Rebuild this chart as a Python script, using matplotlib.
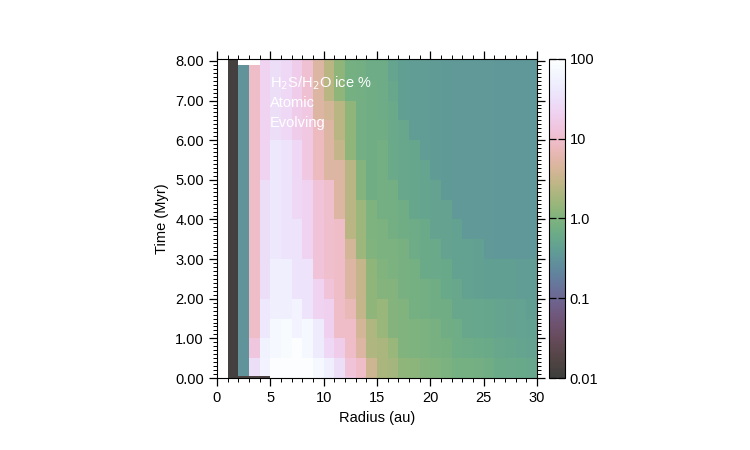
import numpy as np
import matplotlib
matplotlib.use('Agg')
import matplotlib.pyplot as plt
from matplotlib.colors import ListedColormap, LogNorm
from matplotlib.ticker import MultipleLocator

plt.rcParams['font.family'] = ['Liberation Sans', 'DejaVu Sans']

nan = np.nan

# grid edges
radius_edges = list(range(0, 31))  # au, 1 au bins
time_edges = [0.0, 0.05, 0.5, 1.0, 1.5, 2.0, 2.5, 3.0, 3.5, 4.0, 4.5, 5.0,
              5.5, 6.0, 6.5, 7.0, 7.5, 7.9, 8.05]  # Myr

# H2S/H2O ice %, one list per radius bin (bottom -> top in time)
r00 = [nan] * 18
r01 = [0.012] * 18
r02 = [0.015, 0.3, 0.3, 0.3, 0.3, 0.3, 0.3, 0.3, 0.3, 0.3, 0.3, 0.3, 0.3, 0.3, 0.3, 0.3, 0.3, nan]
r03 = [0.015, 30, 14, 9, 9, 9, 9, 9, 9, 9, 9, 9, 9, 9, 9, 9, 9, nan]
r04 = [0.015, 60, 55, 40, 40, 30, 30, 30, 30, 30, 30, 22, 22, 22, 22, 22, 22, 22]
r05 = [90, 90, 70, 70, 50, 50, 50, 40, 40, 40, 40, 40, 40, 30, 30, 30, 30, 30]
r06 = [90, 90, 80, 80, 50, 50, 50, 35, 35, 35, 35, 35, 35, 25, 25, 25, 25, 25]
r07 = [90, 90, 90, 60, 60, 35, 35, 35, 35, 25, 25, 25, 25, 18, 18, 18, 18, 18]
r08 = [90, 90, 70, 70, 35, 35, 35, 22, 22, 22, 22, 15, 15, 15, 15, 11, 11, 11]
r09 = [70, 70, 45, 45, 22, 22, 12, 12, 12, 12, 12, 8, 8, 8, 5, 5, 5, 5]
r10 = [50, 50, 25, 20, 20, 12, 10, 10, 10, 10, 10, 5, 5, 5, 4, 2.5, 2.5, 2.5]
r11 = [30, 30, 18, 9, 9, 9, 9, 9, 9, 5, 5, 5, 3, 2.5, 2.5, 1.3, 1.3, 1.3]
r12 = [15, 12, 9, 9, 7, 5, 5, 4, 2.5, 2.5, 2.5, 2.5, 1.3, 1.3, 1.3, 0.8, 0.8, 0.8]
r13 = [9, 9, 5, 4, 3, 3, 3, 1.6, 1.6, 1.6, 1.1, 1.1, 0.75, 0.75, 0.75, 0.75, 0.75, 0.75]
r14 = [3.5, 3.5, 2.2, 2.2, 1.3, 1.3, 1.3, 1.0, 0.95, 0.95, 0.7, 0.7, 0.7, 0.7, 0.7, 0.7, 0.65, 0.65]
r15 = [2.0, 2.0, 2.0, 1.5, 1.5, 1.1, 1.0, 0.9, 0.9, 0.75, 0.75, 0.75, 0.75, 0.7, 0.65, 0.65, 0.65, 0.65]
r16 = [1.8, 1.8, 1.5, 1.1, 1.1, 1.1, 0.9, 0.9, 0.75, 0.75, 0.75, 0.6, 0.6, 0.6, 0.6, 0.55, 0.5, 0.5]
r17 = [1.3, 1.3, 1.0, 1.0, 1.0, 0.85, 0.85, 0.85, 0.7, 0.7, 0.55, 0.55, 0.55, 0.55, 0.42, 0.42, 0.42, 0.42]
r18 = [1.2, 1.2, 0.95, 0.95, 0.8, 0.8, 0.8, 0.65, 0.65, 0.52, 0.52, 0.52, 0.52, 0.4, 0.4, 0.4, 0.4, 0.4]
r19 = [1.1, 1.1, 0.9, 0.9, 0.75, 0.75, 0.62, 0.62, 0.62, 0.5, 0.5, 0.5, 0.38, 0.38, 0.38, 0.38, 0.38, 0.38]
r20 = [1.0, 1.0, 0.85, 0.85, 0.72, 0.72, 0.6, 0.6, 0.48, 0.48, 0.48, 0.37, 0.37, 0.37, 0.37, 0.37, 0.37, 0.37]
r21 = [0.9, 0.9, 0.82, 0.7, 0.7, 0.58, 0.58, 0.47, 0.47, 0.47, 0.36, 0.36, 0.36, 0.36, 0.36, 0.36, 0.36, 0.36]
r22 = [0.8, 0.8, 0.68, 0.68, 0.56, 0.56, 0.45, 0.45, 0.45, 0.35, 0.35, 0.35, 0.35, 0.35, 0.35, 0.35, 0.35, 0.35]
r23 = [0.78, 0.78, 0.66, 0.55, 0.55, 0.44, 0.44, 0.44, 0.35, 0.35, 0.35, 0.35, 0.35, 0.35, 0.35, 0.35, 0.35, 0.35]
r24 = [0.75, 0.75, 0.64, 0.54, 0.54, 0.43, 0.43, 0.43, 0.34, 0.34, 0.34, 0.34, 0.34, 0.34, 0.34, 0.34, 0.34, 0.34]
r25 = [0.72, 0.72, 0.62, 0.52, 0.52, 0.42, 0.42, 0.34, 0.34, 0.34, 0.34, 0.34, 0.34, 0.34, 0.34, 0.34, 0.34, 0.34]
r26 = [0.62, 0.62, 0.55, 0.5, 0.5, 0.41, 0.41, 0.33, 0.33, 0.33, 0.33, 0.33, 0.33, 0.33, 0.33, 0.33, 0.33, 0.33]
r27 = [0.6, 0.6, 0.52, 0.48, 0.48, 0.41, 0.41, 0.33, 0.33, 0.33, 0.33, 0.33, 0.33, 0.33, 0.33, 0.33, 0.33, 0.33]
r28 = [0.58, 0.58, 0.5, 0.46, 0.46, 0.4, 0.4, 0.33, 0.33, 0.33, 0.33, 0.33, 0.33, 0.33, 0.33, 0.33, 0.33, 0.33]
r29 = [0.56, 0.56, 0.48, 0.45, 0.42, 0.4, 0.4, 0.33, 0.33, 0.33, 0.33, 0.33, 0.33, 0.33, 0.33, 0.33, 0.33, 0.33]

ice_pct = np.array([r00, r01, r02, r03, r04, r05, r06, r07, r08, r09,
                    r10, r11, r12, r13, r14, r15, r16, r17, r18, r19,
                    r20, r21, r22, r23, r24, r25, r26, r27, r28, r29], dtype=float).T
ice_pct = np.ma.masked_invalid(ice_pct)

cbar_ticks = [0.01, 0.1, 1, 10, 100]
cbar_labels = ['0.01', '0.1', '1.0', '10', '100']


# cubehelix colour scheme (Green 2011) with a different start colour
def cubehelix(start=1.15, rot=-1.5, hue=1.0, n=256):
    x = np.linspace(0, 1, n)
    phi = 2 * np.pi * (start / 3.0 + rot * x)
    a = hue * x * (1 - x) / 2.0
    r = x + a * (-0.14861 * np.cos(phi) + 1.78277 * np.sin(phi))
    g = x + a * (-0.29227 * np.cos(phi) - 0.90649 * np.sin(phi))
    b = x + a * (1.97294 * np.cos(phi))
    return ListedColormap(np.clip(np.c_[r, g, b], 0, 1))


cmap = cubehelix()
norm = LogNorm(vmin=0.01, vmax=100)

fig = plt.figure(figsize=(7.5, 4.5), dpi=100)
ax = fig.add_axes([0.2893, 0.16, 0.4267, 0.709])
mesh = ax.pcolormesh(radius_edges, time_edges, ice_pct, cmap=cmap, norm=norm,
                     alpha=0.76, linewidth=0)

ax.set_xlim(0, 30)
ax.set_ylim(0, 8.05)
ax.xaxis.set_major_locator(MultipleLocator(5))
ax.xaxis.set_minor_locator(MultipleLocator(1))
ax.yaxis.set_major_locator(MultipleLocator(1))
ax.yaxis.set_minor_locator(MultipleLocator(0.1))
ax.yaxis.set_major_formatter(matplotlib.ticker.FormatStrFormatter('%.2f'))
ax.tick_params(which='both', direction='out', top=True, right=True, labelsize=10.5)
ax.tick_params(which='major', length=6, width=0.9)
ax.tick_params(which='minor', length=3, width=0.7)
ax.set_xlabel('Radius (au)', fontsize=10.5)
ax.set_ylabel('Time (Myr)', fontsize=10.5)

for i, line in enumerate(['H$_2$S/H$_2$O ice %', 'Atomic', 'Evolving']):
    ax.text(0.166, 0.925 - i * 0.063, line, transform=ax.transAxes, color='white',
            fontsize=10.5, va='center', ha='left')

cax = fig.add_axes([0.732, 0.16, 0.0213, 0.709])
cb = fig.colorbar(mesh, cax=cax)
cb.set_ticks(cbar_ticks)
cb.set_ticklabels(cbar_labels)
cb.minorticks_off()
cax.tick_params(which='major', direction='in', length=5, width=0.9, left=True, right=True,
                labelsize=10.5)

fig.savefig('out.png', dpi=100)
